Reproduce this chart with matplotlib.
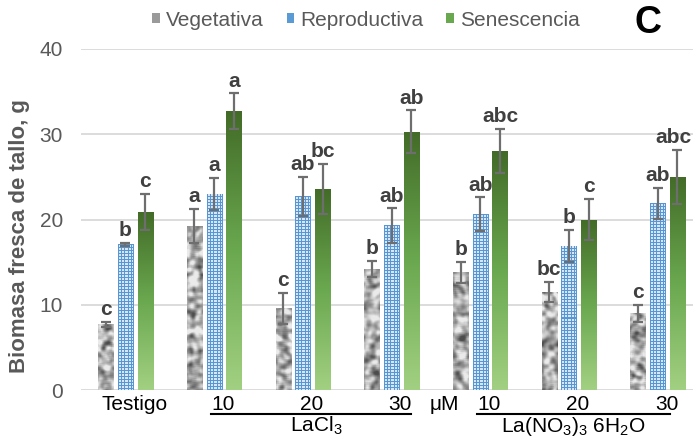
import numpy as np
import matplotlib
matplotlib.use("Agg")
import matplotlib.pyplot as plt
from matplotlib.patches import Patch
from matplotlib.lines import Line2D
from matplotlib.transforms import blended_transform_factory

plt.rcParams["font.family"] = ["Liberation Sans", "DejaVu Sans"]
plt.rcParams["mathtext.fontset"] = "custom"
plt.rcParams["mathtext.rm"] = "Liberation Sans"
plt.rcParams["mathtext.it"] = "Liberation Sans:italic"
plt.rcParams["mathtext.bf"] = "Liberation Sans:bold"

# ---- data -------------------------------------------------------------
groups = ["Testigo", "10", "20", "30", "10", "20", "30"]
series = ["Vegetativa", "Reproductiva", "Senescencia"]

vegetativa = [7.7, 19.2, 9.6, 14.2, 13.8, 11.5, 9.0]
vegetativa_err = [0.3, 2.0, 1.8, 0.9, 1.2, 1.2, 1.0]
reproductiva = [17.1, 23.0, 22.7, 19.3, 20.6, 16.9, 21.9]
reproductiva_err = [0.15, 1.9, 2.3, 2.0, 2.0, 1.9, 1.8]
senescencia = [20.9, 32.7, 23.6, 30.3, 28.0, 20.0, 25.0]
senescencia_err = [2.1, 2.1, 2.9, 2.5, 2.6, 2.4, 3.2]

letters_veg = ["c", "a", "c", "b", "b", "bc", "c"]
letters_rep = ["b", "a", "ab", "ab", "ab", "b", "ab"]
letters_sen = ["c", "a", "bc", "ab", "abc", "c", "abc"]

yticks = [0, 10, 20, 30, 40]
salt_labels = [r"$\mathregular{LaCl_3}$", r"$\mathregular{La(NO_3)_3\ 6H_2O}$"]
unit_label = "μM"

# ---- figure -------------------------------------------------------------
W, H = 693, 438
fig = plt.figure(figsize=(W / 100, H / 100), dpi=100)
ax_left, ax_bottom, ax_top = 81, 390, 49
ax = fig.add_axes([ax_left / W, 1 - ax_bottom / H, (W - ax_left) / W, (ax_bottom - ax_top) / H])

group_px = 88.7
x_right = (W - 125.5) / group_px
ax.set_xlim(-0.5, x_right)
ax.set_ylim(0, 40)
ppu = (ax_bottom - ax_top) / 40.0          # pixels per y unit
ppx = group_px                              # pixels per x unit

idx = np.arange(len(groups))
offsets = [-0.222, 0.0, 0.222]
width = 0.17

gray_txt = "#595959"


def box_blur(a, r):
    out = np.zeros_like(a)
    n = 0
    for dy in range(-r, r + 1):
        for dx in range(-r, r + 1):
            out += np.roll(np.roll(a, dy, axis=0), dx, axis=1)
            n += 1
    return out / n


def granite(h, w, seed):
    yy, xx = np.mgrid[0:h, 0:w]
    v = np.sin(xx * 12.9898 + yy * 78.233 + seed * 37.719) * 43758.5453
    v = v - np.floor(v)
    v = box_blur(v, 2)
    v = box_blur(v, 1)
    v = (v - v.mean()) / (v.std() + 1e-9)
    g = np.clip(0.68 + 0.15 * v, 0.3, 0.92)
    return np.dstack([g, g, g])


def dotted_blue(h, w):
    blue = np.array([86, 150, 212]) / 255.0
    light = np.array([215, 230, 247]) / 255.0
    img = np.tile(blue, (h, w, 1))
    yy, xx = np.mgrid[0:h, 0:w]
    mask = (yy % 3 != 0) & (xx % 3 != 0) & (xx > 0) & (xx < w - 1)
    img[mask] = light
    return img


def green_gradient(n):
    top = np.array([0x42, 0x6b, 0x27]) / 255.0
    mid = np.array([0x6a, 0xa8, 0x4f]) / 255.0
    bot = np.array([0xa2, 0xd0, 0x82]) / 255.0
    t = np.linspace(0, 1, n)[:, None]
    c = np.where(t < 0.5, top + (mid - top) * (t / 0.5), mid + (bot - mid) * ((t - 0.5) / 0.5))
    return c[:, None, :]


data = [(vegetativa, vegetativa_err, letters_veg, "#9a9a9a"),
        (reproductiva, reproductiva_err, letters_rep, "#5b9bd5"),
        (senescencia, senescencia_err, letters_sen, "#6aa84f")]

for s, (vals, errs, letters, base) in enumerate(data):
    xs = idx + offsets[s]
    bars = ax.bar(xs, vals, width=width, color=base, linewidth=0, zorder=2)
    for k, b in enumerate(bars):
        x0 = b.get_x()
        h = b.get_height()
        hp = max(int(round(h * ppu)), 2)
        wp = max(int(round(width * ppx)), 3)
        if s == 0:
            img = granite(hp, wp, k + 1)
            interp = "bilinear"
        elif s == 1:
            img = dotted_blue(hp, wp)
            interp = "nearest"
        else:
            img = green_gradient(hp)
            interp = "bilinear"
        im = ax.imshow(img, extent=(x0, x0 + width, 0, h), aspect="auto",
                       interpolation=interp, zorder=3, origin="upper")
        im.set_clip_path(b)
    ax.errorbar(xs, vals, yerr=errs, fmt="none", ecolor="#6e6e6e", elinewidth=1.6,
                capsize=3.3, capthick=1.6, zorder=5)
    for k, (x, v, e, lab) in enumerate(zip(xs, vals, errs, letters)):
        # keep the right-most label inside the figure edge
        dx = -3 if (s == 2 and k == len(xs) - 1) else 0
        ax.annotate(lab, (x, v + e), xytext=(dx, 2), textcoords="offset points",
                    ha="center", va="bottom", fontsize=15, fontweight="bold",
                    color="#404040", zorder=6, annotation_clip=False)

ax.set_xlim(-0.5, x_right)
ax.set_ylim(0, 40)

# axes styling
for sp in ax.spines.values():
    sp.set_visible(False)
ax.set_yticks(yticks)
ax.yaxis.grid(True, color="#d9d9d9", linewidth=1.3, zorder=0)
ax.set_axisbelow(True)
ax.tick_params(axis="y", length=0, pad=13, labelsize=15, labelcolor=gray_txt)
ax.set_xticks([])

fig.text(20 / W, 1 - 236 / H, "Biomasa fresca de tallo, g", rotation=90,
         ha="center", va="center", fontsize=16, fontweight="bold", color=gray_txt)

# category labels under the axis
tr = blended_transform_factory(ax.transData, fig.transFigure)
label_y = 1 - 405 / H
for i, g in enumerate(groups):
    ax.text(i + 0.1, label_y, g, transform=tr, ha="center", va="center",
            fontsize=15, color="black")
ax.text(3.6, label_y, unit_label, transform=tr, ha="center", va="center",
        fontsize=15, color="black")

line_y = 1 - 414 / H
for (a, b) in [(0.97, 3.22), (3.96, 6.14)]:
    fig.add_artist(Line2D([a, b], [line_y, line_y], transform=tr, color="black",
                          linewidth=1.5))
salt_y = 1 - 426 / H
ax.text(2.15, salt_y, salt_labels[0], transform=tr, ha="center", va="center",
        fontsize=15, color="black")
ax.text(5.05, salt_y, salt_labels[1], transform=tr, ha="center", va="center",
        fontsize=15, color="black")

# legend
handles = [Patch(facecolor="#9a9a9a", edgecolor="none"),
           Patch(facecolor="#5b9bd5", edgecolor="none"),
           Patch(facecolor="#6aa84f", edgecolor="none")]
fig.legend(handles, series, loc="center", bbox_to_anchor=(366 / W, 1 - 20 / H),
           ncol=3, frameon=False, fontsize=15, labelcolor=gray_txt,
           handlelength=0.35, handleheight=0.35, handletextpad=0.3,
           columnspacing=1.1, borderpad=0)

fig.text(648 / W, 1 - 23 / H, "C", ha="center", va="center", fontsize=27,
         fontweight="bold", color="black")

fig.savefig("out.png", dpi=100)
